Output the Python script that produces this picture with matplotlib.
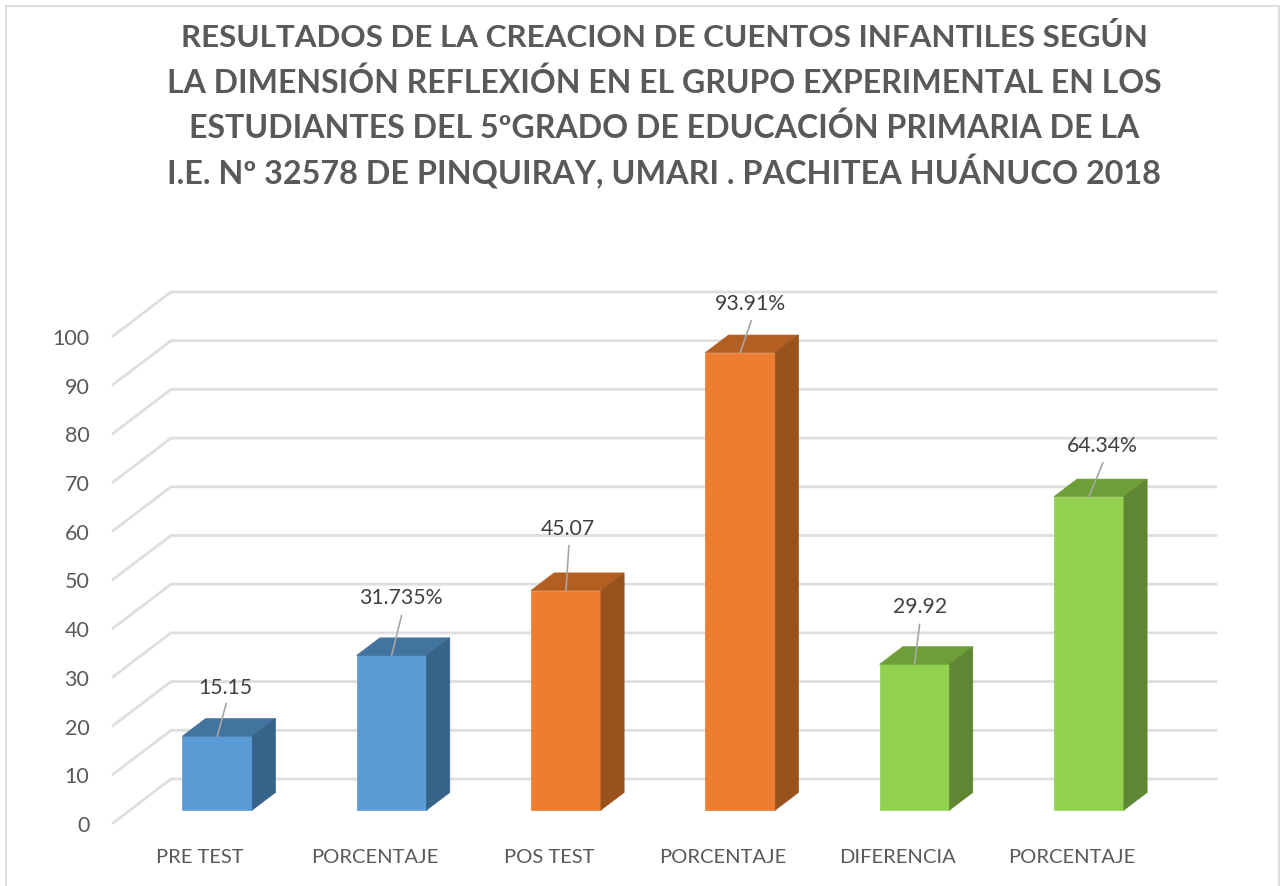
import matplotlib
matplotlib.use('Agg')
import matplotlib.pyplot as plt
from matplotlib.lines import Line2D

W, H = 1280, 887

# Chart values
categories = ['PRE TEST', 'PORCENTAJE', 'POS TEST', 'PORCENTAJE', 'DIFERENCIA', 'PORCENTAJE']
values = [15.15, 31.735, 45.07, 93.91, 29.92, 64.34]
value_labels = ['15.15', '31.735%', '45.07', '93.91%', '29.92', '64.34%']
y_ticks = list(range(0, 101, 10))

title_lines = ['RESULTADOS DE LA CREACION DE CUENTOS INFANTILES SEGÚN',
               'LA DIMENSIÓN REFLEXIÓN EN EL GRUPO EXPERIMENTAL EN LOS',
               'ESTUDIANTES DEL 5ºGRADO DE EDUCACIÓN PRIMARIA DE LA',
               'I.E. Nº 32578 DE PINQUIRAY, UMARI . PACHITEA HUÁNUCO 2018']
title_baselines = [47, 93, 138.5, 184]
# Lato runs a bit differently from the original font, so each line gets its own size
title_sizes = [22.6, 23.0, 23.15, 23.3]

# Styles per bar: front, top, side
front_colors = ['#5B9BD5', '#5B9BD5', '#ED7D31', '#ED7D31', '#92D050', '#92D050']
top_colors = ['#43739F', '#43739F', '#B35E22', '#B35E22', '#6E9E38', '#6E9E38']
side_colors = ['#376389', '#376389', '#99521C', '#99521C', '#5F8632', '#5F8632']

# Label offsets from the bar top, in pixels (label centre)
label_dx = [8, 9, 2, 10, 5, 13]
label_dy = [49, 58, 63, 50, 58, 52]
# Leader line top end, in pixels from the bar top centre
leader_dx = [9, 10, 3, 11, 5, 14]
leader_dy = [33, 40, 45, 32, 40, 34]

text_color = '#595959'
grid_color = '#DEDEDE'
plt.rcParams['font.family'] = ['Lato', 'DejaVu Sans']

fig = plt.figure(figsize=(W / 100, H / 100), dpi=100)

# Front plane of the plot: x 113..1159 px, y 824..337 px
ax = fig.add_axes([113 / W, 1 - 824 / H, (1159 - 113) / W, (824 - 337) / H])
ax.patch.set_alpha(0)
ax.set_xlim(-0.5, 5.5)
ax.set_ylim(0, 100)
for s in ax.spines.values():
    s.set_visible(False)

# Fake 3D: how far the back wall is shifted, in data units
depth_x = 58 / 174.4
depth_y = 44 / 4.87
bar_front = 0.295
bar_back = 0.695
bar_width = 70 / 174.4

# Gridlines: floor/side line plus back wall line
for v in y_ticks:
    ax.plot([-0.5, -0.5 + depth_x, 5.5 + depth_x - 0.006], [v, v + depth_y, v + depth_y],
            color=grid_color, lw=2, clip_on=False, zorder=1, solid_joinstyle='miter')

for i, v in enumerate(values):
    x0 = i - bar_width / 2 + bar_front * depth_x
    x1 = x0 + bar_width
    y0 = bar_front * depth_y
    y1 = y0 + v
    dx = (bar_back - bar_front) * depth_x
    dy = (bar_back - bar_front) * depth_y
    ax.fill([x0, x1, x1, x0], [y0, y0, y1, y1], color=front_colors[i], lw=0.5, clip_on=False, zorder=3)
    ax.fill([x0, x1, x1 + dx, x0 + dx], [y1, y1, y1 + dy, y1 + dy], color=top_colors[i], lw=0.5, clip_on=False, zorder=3)
    ax.fill([x1, x1 + dx, x1 + dx, x1], [y0, y0 + dy, y1 + dy, y1], color=side_colors[i], lw=0.5, clip_on=False, zorder=3)

    # leader line and value label
    anchor = ((x0 + x1) / 2, y1)
    ax.annotate('', xy=anchor, xytext=(leader_dx[i], leader_dy[i]), textcoords='offset pixels',
                arrowprops=dict(arrowstyle='-', color='#A6A6A6', lw=1.2, shrinkA=0, shrinkB=0),
                annotation_clip=False, zorder=4)
    ax.annotate(value_labels[i], xy=anchor, xytext=(label_dx[i], label_dy[i]), textcoords='offset pixels',
                ha='center', va='center', fontsize=15.3, color='#404040', annotation_clip=False, zorder=5)

ax.set_xticks(range(len(categories)))
ax.set_xticklabels(categories, fontsize=14.5, color=text_color)
ax.set_yticks(y_ticks)
ax.set_yticklabels([str(t) for t in y_ticks], fontsize=15.5, color=text_color)
ax.tick_params(axis='both', length=0)
ax.tick_params(axis='x', pad=18)
ax.tick_params(axis='y', pad=17)

for line, base, size in zip(title_lines, title_baselines, title_sizes):
    fig.text(664 / W, 1 - base / H, line, ha='center', va='baseline',
             fontsize=size, fontweight='bold', color=text_color)

# Chart frame (bottom edge is cut off in the crop)
fig.add_artist(Line2D([6 / W, 6 / W, 1279 / W, 1279 / W], [0, 1 - 7 / H, 1 - 7 / H, 0],
                      color=grid_color, lw=1.5))

fig.savefig('out.png', dpi=100)
